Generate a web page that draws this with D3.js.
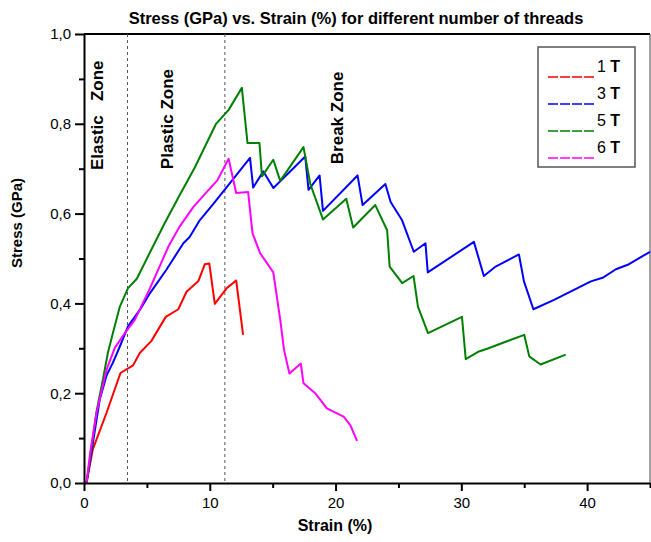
<!DOCTYPE html>
<html lang="en">
<head>
    <meta charset="UTF-8">
    <title>Stress vs Strain</title>
    <script src="https://d3js.org/d3.v7.min.js"></script>
    <style>
        body { margin: 0; background: #fff; }
        text { font-family: "Liberation Sans", Arial, sans-serif; }
        .axis path, .axis line { stroke: #000; }
        .axis text { font-size: 15px; fill: #000; }
    </style>
</head>
<body>
    <script>

        //data
        var strain_1T = [0.2, 0.7, 1.8, 2.9, 3.9, 4.45, 5.35, 6.5, 7.5, 8.15, 9.1, 9.6, 9.96, 10.4, 11.35, 12.1, 12.65]
        var stress_1T = [0, 0.075, 0.157, 0.245, 0.262, 0.29, 0.316, 0.37, 0.387, 0.426, 0.45, 0.487, 0.489, 0.399, 0.434, 0.451, 0.33]

        var strain_3T = [0.2, 0.6, 1.25, 1.8, 2.3, 2.85, 3.5, 4.45, 5.25, 6.55, 7.9, 8.4, 9.2, 10.3, 11.35, 13.2, 13.45, 14.26, 15.06,
            17.59, 17.85, 18.73, 19.0, 21.75, 22.15, 23.96, 24.38, 25.29, 26.22, 27.15, 27.33, 31.0, 31.79, 32.73, 34.58, 34.98,
            35.73, 37.37, 40.3, 41.23, 42.29, 43.23, 45.0]
        var stress_3T = [0, 0.07, 0.186, 0.24, 0.268, 0.304, 0.349, 0.386, 0.423, 0.475, 0.534, 0.548, 0.585, 0.622, 0.659, 0.724, 0.658, 0.694, 0.657,
            0.727, 0.653, 0.685, 0.606, 0.685, 0.619, 0.666, 0.626, 0.585, 0.515, 0.534, 0.469, 0.537, 0.461, 0.482, 0.509, 0.449,
            0.387, 0.408, 0.449, 0.457, 0.476, 0.486, 0.515]

        var strain_5T = [0.2, 0.4, 0.7, 1.0, 1.5, 1.9, 2.3, 2.85, 3.5, 4.2, 5.2, 6.4, 7.6, 8.8, 10.5, 11.5, 12.55, 13.0, 13.95, 14.15, 15.05,
            15.6, 17.45, 18.0, 19.0, 20.85, 21.4, 23.16, 24.1, 24.3, 25.3, 26.2, 26.55, 27.35, 30.05, 30.35, 31.4, 32.05, 35.0,
            35.4, 36.3, 38.3]
        var stress_5T = [0, 0.04, 0.1, 0.16, 0.23, 0.29, 0.334, 0.393, 0.434, 0.455, 0.511, 0.578, 0.641, 0.702, 0.8, 0.831, 0.88, 0.757, 0.757, 0.683, 0.72,
            0.673, 0.748, 0.665, 0.587, 0.633, 0.569, 0.619, 0.563, 0.482, 0.445, 0.461, 0.393, 0.334, 0.37, 0.276, 0.293, 0.299, 0.33,
            0.282, 0.264, 0.286]

        var strain_6T = [0.2, 0.5, 1.0, 1.8, 2.45, 3.25, 4.05, 5.25, 6.7, 7.6, 8.7, 9.75, 10.6, 11.5, 12.1, 13.05, 13.4, 14.0, 15.05,
            15.6, 15.9, 16.33, 17.24, 17.45, 18.38, 19.31, 20.64, 21.17, 21.71]
        var stress_6T = [0, 0.07, 0.157, 0.253, 0.301, 0.334, 0.364, 0.434, 0.526, 0.571, 0.615, 0.648, 0.674, 0.722, 0.646, 0.648, 0.556, 0.512, 0.469,
            0.364, 0.297, 0.244, 0.266, 0.222, 0.2, 0.166, 0.148, 0.129, 0.094]

        var series_names = ['1', '3', '5', '6']
        var series_colors = ['#ff0000', '#0000ff', '#008000', '#ff00ff']

        var x_ticks = [0, 10, 20, 30, 40]
        var x_minor = [5, 15, 25, 35, 45]
        var y_ticks = [0, 0.2, 0.4, 0.6, 0.8, 1.0]
        var y_minor = [0.1, 0.3, 0.5, 0.7, 0.9]

        // zone borders and labels
        var zone_lines = [3.46, 11.2]
        var zone_names = ['Elastic   Zone', 'Plastic Zone', 'Break Zone']
        var zone_pos = [1.0, 6.6, 20.1]
        var zone_bottom = [0.697, 0.699, 0.71]

        var all_series = [
            {strain: strain_1T, stress: stress_1T},
            {strain: strain_3T, stress: stress_3T},
            {strain: strain_5T, stress: stress_5T},
            {strain: strain_6T, stress: stress_6T}
        ]

        //set d3
        var w = 651, h = 542
        var p_left = 84, p_right = 650, p_top = 34, p_bottom = 483

        var svg = d3.select('body')
                    .append('svg')
                    .attr('width', w)
                    .attr('height', h)

        var xScale = d3.scaleLinear()
                        .domain([0, 45])
                        .range([p_left, p_right])

        var yScale = d3.scaleLinear()
                        .domain([0, 1])
                        .range([p_bottom, p_top])

        svg.append('defs').append('clipPath')
            .attr('id', 'plot_clip')
            .append('rect')
            .attr('x', p_left)
            .attr('y', p_top)
            .attr('width', p_right - p_left + 1)
            .attr('height', p_bottom - p_top)

        //frame top and right
        svg.append('line')
            .attr('x1', p_left).attr('x2', p_right)
            .attr('y1', p_top).attr('y2', p_top)
            .attr('stroke', '#000').attr('stroke-width', 2)
        svg.append('line')
            .attr('x1', p_right).attr('x2', p_right)
            .attr('y1', p_top).attr('y2', p_bottom)
            .attr('stroke', '#444').attr('stroke-width', 1)

        //dashed zone lines
        svg.selectAll('.zone_line')
            .data(zone_lines)
            .enter()
            .append('line')
            .attr('class', 'zone_line')
            .attr('x1', d => xScale(d)).attr('x2', d => xScale(d))
            .attr('y1', p_top).attr('y2', p_bottom)
            .attr('stroke', '#555')
            .attr('stroke-width', 1)
            .attr('stroke-dasharray', '3,3')

        //zone labels
        svg.selectAll('.zone_label')
            .data(zone_names)
            .enter()
            .append('text')
            .attr('class', 'zone_label')
            .attr('xml:space', 'preserve')
            .style('white-space', 'pre')
            .attr('transform', (d, i) => 'translate(' + xScale(zone_pos[i]) + ',' + yScale(zone_bottom[i]) + ') rotate(-90)')
            .attr('dy', '0.35em')
            .attr('font-size', 17)
            .attr('font-weight', 'bold')
            .text(d => d)

        //curves
        var line = d3.line()
                    .x(d => xScale(d[0]))
                    .y(d => yScale(d[1]))

        svg.append('g')
            .attr('clip-path', 'url(#plot_clip)')
            .selectAll('path')
            .data(all_series)
            .enter()
            .append('path')
            .attr('d', d => line(d.strain.map((s, i) => [s, d.stress[i]])))
            .attr('fill', 'none')
            .attr('stroke', (d, i) => series_colors[i])
            .attr('stroke-width', 2)
            .attr('stroke-linejoin', 'round')

        //axis
        var fmt = d => d3.format('.1f')(d).replace('.', ',')

        svg.append('g')
            .attr('class', 'axis')
            .attr('transform', 'translate(0,' + p_bottom + ')')
            .call(d3.axisBottom(xScale).tickValues(x_ticks).tickSize(8).tickSizeOuter(0).tickPadding(6))
            .call(g => g.select('.domain').attr('stroke-width', 2))
            .call(g => g.selectAll('.tick line').attr('stroke-width', 2))

        svg.append('g')
            .attr('class', 'axis')
            .attr('transform', 'translate(0,' + p_bottom + ')')
            .call(d3.axisBottom(xScale).tickValues(x_minor).tickSize(5).tickSizeOuter(0).tickFormat(''))
            .call(g => g.select('.domain').remove())
            .call(g => g.selectAll('.tick line').attr('stroke-width', 2))

        svg.append('g')
            .attr('class', 'axis')
            .attr('transform', 'translate(' + p_left + ',0)')
            .call(d3.axisLeft(yScale).tickValues(y_ticks).tickSize(9).tickSizeOuter(0).tickPadding(4).tickFormat(fmt))
            .call(g => g.select('.domain').attr('stroke-width', 2))
            .call(g => g.selectAll('.tick line').attr('stroke-width', 2))

        svg.append('g')
            .attr('class', 'axis')
            .attr('transform', 'translate(' + p_left + ',0)')
            .call(d3.axisLeft(yScale).tickValues(y_minor).tickSize(5).tickSizeOuter(0).tickFormat(''))
            .call(g => g.select('.domain').remove())
            .call(g => g.selectAll('.tick line').attr('stroke-width', 2))

        //titles
        svg.append('text')
            .attr('x', 356)
            .attr('y', 24)
            .attr('text-anchor', 'middle')
            .attr('font-size', 16.5)
            .attr('font-weight', 'bold')
            .text('Stress (GPa) vs. Strain (%) for different number of threads')

        svg.append('text')
            .attr('x', 335)
            .attr('y', 531)
            .attr('text-anchor', 'middle')
            .attr('font-size', 16)
            .attr('font-weight', 'bold')
            .text('Strain (%)')

        svg.append('text')
            .attr('transform', 'translate(17,223) rotate(-90)')
            .attr('text-anchor', 'middle')
            .attr('dy', '0.35em')
            .attr('font-size', 15)
            .attr('font-weight', 'bold')
            .text('Stress (GPa)')

        //legend
        var legend = svg.append('g')
        legend.append('rect')
            .attr('x', 538).attr('y', 47)
            .attr('width', 97).attr('height', 120)
            .attr('fill', '#fff')
            .attr('stroke', '#555')
            .attr('stroke-width', 1.5)

        var items = legend.selectAll('.item')
            .data(series_names)
            .enter()
            .append('g')
            .attr('class', 'item')
            .attr('transform', (d, i) => 'translate(0,' + (i * 27) + ')')

        items.append('line')
            .attr('x1', 548).attr('x2', 596)
            .attr('y1', 77).attr('y2', 77)
            .attr('stroke', (d, i) => series_colors[i])
            .attr('stroke-width', 1.5)
            .attr('stroke-dasharray', '10,2')

        var item_text = items.append('text')
            .attr('x', 597)
            .attr('y', 72)
            .attr('font-size', 16)
        item_text.append('tspan').text(d => d + ' ')
        item_text.append('tspan').attr('font-weight', 'bold').text('T')

    </script>
</body>
</html>
